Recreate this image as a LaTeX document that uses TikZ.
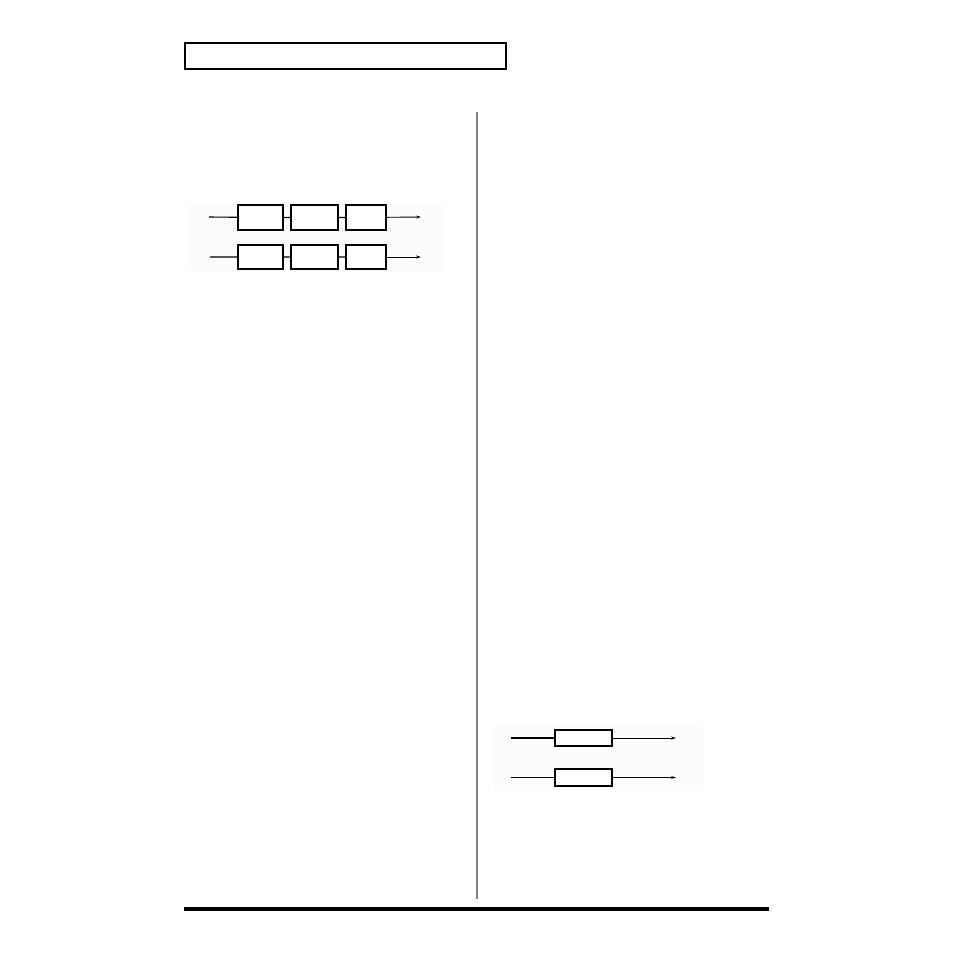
\documentclass[tikz,border=0pt]{standalone}
\usepackage{tikz}
\usetikzlibrary{arrows.meta}

\begin{document}
\begin{tikzpicture}[x=1pt,y=-1pt,
		every node/.style={draw,shape=rectangle,line width=1.3pt,inner sep=0pt,fill=white},
		wire/.style={line width=1.1pt},
		outwire/.style={line width=0.9pt,-{Stealth[length=5pt,width=3pt]}},
		panel/.style={fill={rgb,255:red,250;green,252;blue,254},draw=none}]
		\useasboundingbox (0,0) rectangle (954,954);
		\fill[white] (0,0) rectangle (954,954);

		% page frame
		\draw[line width=2pt] (185,43) rectangle (506,69);
		\draw[line width=2pt,gray] (477,112) -- (477,899);
		\fill[black] (184,907) rectangle (769,911);

		% upper chain
		\fill[panel] (186,203) rectangle (445,271);
		\path (260.5,217.5) node[minimum width=45pt,minimum height=25pt] (a1) {}
		(314.5,217.5) node[minimum width=47pt,minimum height=25pt] (a2) {}
		(366,217.5) node[minimum width=40pt,minimum height=25pt] (a3) {}
		(260.5,257) node[minimum width=45pt,minimum height=24pt] (b1) {}
		(314.5,257) node[minimum width=47pt,minimum height=24pt] (b2) {}
		(366,257) node[minimum width=40pt,minimum height=24pt] (b3) {};
		\coordinate (ain) at (209,217);
		\coordinate (aout) at (421,217);
		\coordinate (bin) at (210,257);
		\coordinate (bout) at (421,257);

		\draw[wire] (ain) -- (a1)
		(a1) -- (a2)
		(a2) -- (a3)
		(bin) -- (b1)
		(b1) -- (b2)
		(b2) -- (b3);
		\draw[outwire] (a3) -- (aout);
		\draw[outwire] (b3) -- (bout);

		% lower chain
		\fill[panel] (494,725) rectangle (703,790);
		\path (583.5,738) node[minimum width=57pt,minimum height=16pt] (c1) {}
		(583.5,777.5) node[minimum width=57pt,minimum height=17pt] (d1) {};
		\coordinate (cin) at (511,738);
		\coordinate (cout) at (676,738);
		\coordinate (din) at (511,777.5);
		\coordinate (dout) at (676,777.5);

		\draw[wire] (cin) -- (c1)
		(din) -- (d1);
		\draw[outwire] (c1) -- (cout);
		\draw[outwire] (d1) -- (dout);
	\end{tikzpicture}
\end{document}
